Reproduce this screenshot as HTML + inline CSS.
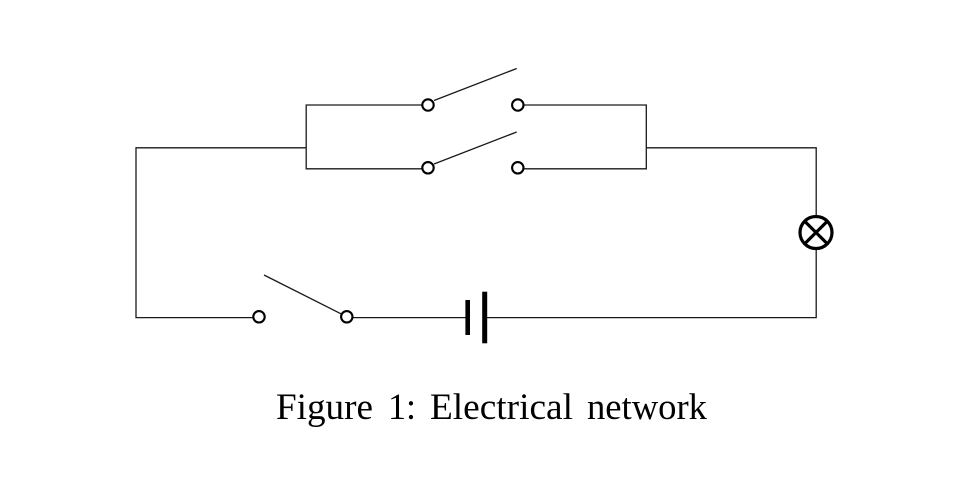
<!DOCTYPE html>
<html>
<head>
<meta charset="utf-8">
<style>
html,body{margin:0;padding:0;background:#fff;width:978px;height:488px;overflow:hidden}
svg{display:block}
</style>
</head>
<body>
<svg width="978" height="488" viewBox="0 0 978 488" xmlns="http://www.w3.org/2000/svg">
<rect width="978" height="488" fill="#fff"/>
<g fill="none" stroke="#1a1a1a" stroke-width="1.3">
<path d="M306 147.8H136V317.6H253"/>
<path d="M646.3 147.8H816.2V215"/>
<path d="M816.2 250V317.6H485"/>
<path d="M467.7 317.6H353"/>
<path d="M422 105H306.2V168.8H422"/>
<path d="M524 105H646.3V168.8H524"/>
<path d="M434 100.5L516.7 68.5"/>
<path d="M434 164L516.7 132"/>
<path d="M341 313.8L264 275"/>
</g>
<g fill="#fff" stroke="#000" stroke-width="2.1">
<circle cx="428" cy="105" r="5.7"/>
<circle cx="517.8" cy="105" r="5.7"/>
<circle cx="428" cy="167.8" r="5.7"/>
<circle cx="517.8" cy="167.8" r="5.7"/>
<circle cx="259" cy="316.8" r="5.7"/>
<circle cx="346.8" cy="316.8" r="5.7"/>
</g>
<rect x="465.4" y="300" width="4.6" height="35" fill="#000"/>
<rect x="482.2" y="291.7" width="5" height="51.6" fill="#000"/>
<g fill="none" stroke="#000" stroke-width="3.2">
<circle cx="816" cy="232.5" r="16"/>
<path d="M804.7 221.2L827.3 243.8M827.3 221.2L804.7 243.8"/>
</g>
<g font-family="'Liberation Serif',serif" font-size="37" fill="#000">
<text x="276" y="419" textLength="97" lengthAdjust="spacingAndGlyphs">Figure</text>
<text x="388" y="419" textLength="28" lengthAdjust="spacingAndGlyphs">1:</text>
<text x="430" y="419" textLength="143" lengthAdjust="spacingAndGlyphs">Electrical</text>
<text x="587" y="419" textLength="120" lengthAdjust="spacingAndGlyphs">network</text>
</g>
</svg>
</body>
</html>
